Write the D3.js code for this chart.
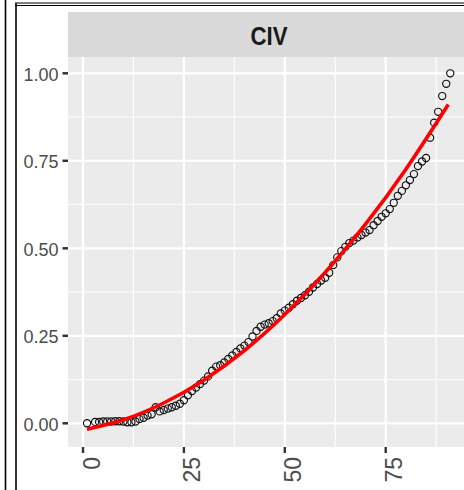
<!DOCTYPE html>
<html><head><meta charset="utf-8">
<script src="https://cdn.jsdelivr.net/npm/d3@7"></script>
<style>html,body{margin:0;padding:0;background:#fff;overflow:hidden}</style>
</head><body><svg id="c" width="464" height="490"></svg>
<script>
const panelLabel = "CIV";
const pointX = [1,3,4,5,6,7,8,9,10,11,12,13,14,15,16,17,18,19,20,21,22,23,24,25,
  26,27,28,29,30,31,32,33,34,35,36,37,38,39,40,41,42,43,44,45,46,47,48,49,50,
  51,52,53,54,55,56,57,58,59,60,61,62,63,64,65,66,67,68,69,70,71,72,73,74,75,
  76,77,78,79,80,81,82,83,84,85,86,87,88,89,90,91];
const pointY = [0.000,0.004,0.004,0.005,0.005,0.005,0.006,0.006,0.005,0.003,0.003,0.005,0.012,0.016,0.022,0.026,0.046,0.034,0.038,0.042,0.046,0.050,0.056,0.066,
  0.080,0.092,0.102,0.112,0.122,0.134,0.150,0.162,0.166,0.174,0.184,0.194,0.204,0.214,0.222,0.232,0.248,0.264,0.276,0.282,0.286,0.292,0.300,0.314,0.322,
  0.330,0.340,0.350,0.358,0.366,0.376,0.388,0.398,0.408,0.416,0.430,0.452,0.474,0.492,0.504,0.515,0.522,0.531,0.538,0.545,0.552,0.566,0.578,0.590,0.600,
  0.612,0.630,0.650,0.664,0.680,0.695,0.712,0.735,0.748,0.758,0.816,0.859,0.890,0.935,0.970,1.000];
const lineX = [1,10,20,30,40,50,60,70,80,90.5];
const lineY = [-0.017,0.010,0.058,0.124,0.208,0.311,0.431,0.569,0.726,0.911];
const xTicks = [0,25,50,75];
const xMinor = [12.5,37.5,62.5,87.5];
const yTicks = [0,0.25,0.5,0.75,1];
const yMinor = [0.125,0.375,0.625,0.875];

const svg = d3.select("#c");
const P = {left:68, right:470, top:57, bottom:447, stripTop:12};
const x = d3.scaleLinear().domain([0,75]).range([83,385.7]);
const y = d3.scaleLinear().domain([0,1]).range([423.3,73.3]);

svg.append("rect").attr("width",464).attr("height",490).attr("fill","#fff");

// outer frame lines
const fr = svg.append("g").attr("stroke","#000").attr("fill","none");
fr.append("line").attr("x1",5.5).attr("x2",5.5).attr("y1",0).attr("y2",490).attr("stroke-width",1.6);
fr.append("line").attr("x1",16).attr("x2",16).attr("y1",3).attr("y2",490).attr("stroke-width",1.6);
fr.append("line").attr("x1",15).attr("x2",464).attr("y1",3).attr("y2",3).attr("stroke-width",1.2);
fr.append("line").attr("x1",15).attr("x2",464).attr("y1",5.5).attr("y2",5.5).attr("stroke-width",1.2);

// strip
svg.append("rect").attr("x",P.left).attr("y",P.stripTop).attr("width",P.right-P.left).attr("height",P.top-P.stripTop).attr("fill","#D9D9D9");
svg.append("text").attr("x",(P.left+P.right)/2).attr("y",(P.stripTop+P.top)/2+1)
  .attr("text-anchor","middle").attr("dominant-baseline","central")
  .attr("font-family","Liberation Sans, Arial, sans-serif").attr("font-weight","bold")
  .attr("font-size",26).attr("fill","#1A1A1A")
  .attr("textLength",37).attr("lengthAdjust","spacingAndGlyphs")
  .text(panelLabel);

// panel
svg.append("rect").attr("x",P.left).attr("y",P.top).attr("width",P.right-P.left).attr("height",P.bottom-P.top).attr("fill","#EBEBEB");

const grid = svg.append("g").attr("stroke","#fff").attr("fill","none");
grid.selectAll(".hm").data(yMinor).join("line").attr("x1",P.left).attr("x2",P.right)
  .attr("y1",d=>y(d)).attr("y2",d=>y(d)).attr("stroke-width",1.1);
grid.selectAll(".vm").data(xMinor).join("line").attr("y1",P.top).attr("y2",P.bottom)
  .attr("x1",d=>x(d)).attr("x2",d=>x(d)).attr("stroke-width",1.1);
grid.selectAll(".hM").data(yTicks).join("line").attr("x1",P.left).attr("x2",P.right)
  .attr("y1",d=>y(d)).attr("y2",d=>y(d)).attr("stroke-width",2.3);
grid.selectAll(".vM").data(xTicks).join("line").attr("y1",P.top).attr("y2",P.bottom)
  .attr("x1",d=>x(d)).attr("x2",d=>x(d)).attr("stroke-width",2.3);

// points
svg.append("g").selectAll("circle").data(pointX.map((d,i)=>[d,pointY[i]])).join("circle")
  .attr("cx",d=>x(d[0])).attr("cy",d=>y(d[1])).attr("r",3.6)
  .attr("fill","none").attr("stroke","#111").attr("stroke-width",1.15);

// fitted line
svg.append("path").datum(lineX.map((d,i)=>[d,lineY[i]]))
  .attr("d",d3.line().x(d=>x(d[0])).y(d=>y(d[1])).curve(d3.curveNatural))
  .attr("fill","none").attr("stroke","#FF0000").attr("stroke-width",3.6);

// y axis
const ya = svg.append("g");
ya.selectAll("line").data(yTicks).join("line").attr("x1",62.5).attr("x2",P.left)
  .attr("y1",d=>y(d)).attr("y2",d=>y(d)).attr("stroke","#333").attr("stroke-width",2.5);
ya.selectAll("text").data(yTicks).join("text").attr("x",58.5).attr("y",d=>y(d)+1.5)
  .attr("text-anchor","end").attr("dominant-baseline","central")
  .attr("font-family","Liberation Sans, Arial, sans-serif").attr("font-size",18).attr("fill","#4D4D4D")
  .text(d=>d3.format(".2f")(d));

// x axis
const xa = svg.append("g");
xa.selectAll("line").data(xTicks).join("line").attr("y1",P.bottom).attr("y2",P.bottom+6)
  .attr("x1",d=>x(d)).attr("x2",d=>x(d)).attr("stroke","#333").attr("stroke-width",2.4);
xa.selectAll("text").data(xTicks).join("text")
  .attr("transform",d=>`translate(${x(d)+16.5},${P.bottom+10}) rotate(-90)`)
  .attr("text-anchor","end")
  .attr("font-family","Liberation Sans, Arial, sans-serif").attr("font-size",23).attr("fill","#4D4D4D")
  .text(d=>d);
</script></body></html>
